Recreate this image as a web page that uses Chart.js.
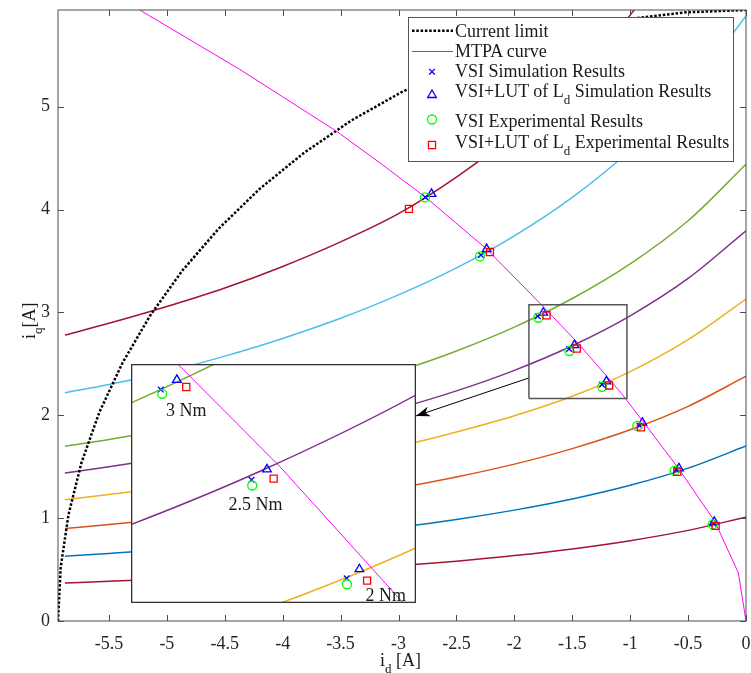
<!DOCTYPE html>
<html>
<head>
<meta charset="utf-8">
<script src="https://cdn.jsdelivr.net/npm/chart.js@4.4.0/dist/chart.umd.min.js"></script>
<style>
  body { margin: 0; background: #fff; }
  #wrap { position: relative; width: 751px; height: 673px; font-family: "Liberation Serif", "Times New Roman", serif; color: #1a1a1a; }
  #main { position: absolute; left: 0; top: 0; }
  #inset { position: absolute; left: 131px; top: 364px; background: #fff; }
  .lbl { position: absolute; font-size: 18px; line-height: 1; white-space: nowrap; }
  .lbl sub { font-size: 13px; vertical-align: -7px; line-height: 0; }
  #ylab { transform-origin: 0 0; transform: rotate(-90deg); }
</style>
</head>
<body>
<div id="wrap">
  <canvas id="main" width="751" height="673"></canvas>
  <canvas id="inset" width="285" height="239"></canvas>

  <div class="lbl" style="left:455px;top:21.6px">Current limit</div>
  <div class="lbl" style="left:455px;top:42.2px">MTPA curve</div>
  <div class="lbl" style="left:455px;top:62.2px">VSI Simulation Results</div>
  <div class="lbl" style="left:455px;top:82.4px">VSI+LUT of L<sub>d</sub> Simulation Results</div>
  <div class="lbl" style="left:455px;top:111.6px">VSI Experimental Results</div>
  <div class="lbl" style="left:455px;top:133.2px">VSI+LUT of L<sub>d</sub> Experimental Results</div>

  <div class="lbl" style="left:166px;top:401px">3 Nm</div>
  <div class="lbl" style="left:228.5px;top:495px">2.5 Nm</div>
  <div class="lbl" style="left:365.5px;top:585.6px">2 Nm</div>

  <div class="lbl" style="left:380px;top:651px">i<sub>d</sub> [A]</div>
  <div class="lbl" id="ylab" style="left:20px;top:338.5px">i<sub>q</sub>[A]</div>
</div>

<script>
// ---- axis ----
const xTicks = [-5.5, -5, -4.5, -4, -3.5, -3, -2.5, -2, -1.5, -1, -0.5, 0];
const yTicks = [0, 1, 2, 3, 4, 5];
const xLimits = [-5.94, 0];
const yLimits = [0, 5.94];
const insetXLimits = [-1.887, -1.036];
const insetYLimits = [2.211, 3.053];

// ---- constant torque curves (i_d grid shared) ----
const torqueId = [-5.88, -5.5, -5, -4.5, -4, -3.5, -3, -2.5, -2, -1.5, -1, -0.5, 0];
const iqCurve1 = [0.370, 0.386, 0.409, 0.435, 0.464, 0.498, 0.537, 0.582, 0.636, 0.701, 0.781, 0.881, 1.010];
const iqCurve2 = [0.630, 0.657, 0.695, 0.739, 0.789, 0.845, 0.911, 0.987, 1.078, 1.186, 1.319, 1.486, 1.701];
const iqCurve3 = [0.899, 0.937, 0.991, 1.053, 1.122, 1.202, 1.293, 1.400, 1.525, 1.676, 1.859, 2.087, 2.380];
const iqCurve4 = [1.179, 1.229, 1.300, 1.381, 1.473, 1.577, 1.697, 1.837, 1.995, 2.185, 2.425, 2.735, 3.130];
const iqCurve5 = [1.438, 1.499, 1.586, 1.684, 1.795, 1.921, 2.067, 2.237, 2.437, 2.676, 2.967, 3.330, 3.794];
const iqCurve6 = [1.700, 1.764, 1.866, 1.980, 2.110, 2.257, 2.427, 2.625, 2.857, 3.135, 3.472, 3.891, 4.440];
const iqCurve7 = [2.220, 2.300, 2.424, 2.575, 2.747, 2.943, 3.170, 3.433, 3.745, 4.119, 4.577, 5.147, 5.882];
const iqCurve8 = [2.780, 2.894, 3.057, 3.237, 3.447, 3.686, 3.960, 4.316, 4.735, 5.249, 5.890, 6.710, 7.790];

// ---- current limit ----
const limitId = [-5.94, -5.917, -5.850, -5.738, -5.582, -5.383, -5.144, -4.866, -4.550, -4.200,
                 -3.818, -3.407, -2.970, -2.510, -2.032, -1.537, -1.031, -0.518, 0];
const limitIq = [0, 0.518, 1.031, 1.537, 2.032, 2.510, 2.970, 3.407, 3.818, 4.200,
                 4.550, 4.866, 5.144, 5.383, 5.582, 5.738, 5.850, 5.917, 5.94];

// ---- MTPA ----
const mtpaId = [-5.40, -5.239, -4.371, -3.535, -3.161, -2.766, -2.239, -1.738, -1.442, -1.074, -0.89, -0.59, -0.27, -0.066, 0];
const mtpaIq = [6.05, 5.943, 5.363, 4.761, 4.454, 4.119, 3.616, 3.042, 2.691, 2.211, 1.94, 1.495, 0.97, 0.467, 0];

// ---- results ----
const vsiSimId = [-2.770, -2.288, -1.798, -1.527, -1.243, -0.920, -0.600, -0.280];
const vsiSimIq = [4.120, 3.558, 2.963, 2.645, 2.298, 1.900, 1.470, 0.945];
const lutSimId = [-2.715, -2.239, -1.750, -1.481, -1.205, -0.895, -0.579, -0.274];
const lutSimIq = [4.152, 3.616, 2.997, 2.682, 2.330, 1.928, 1.484, 0.964];
const vsiExpId = [-2.772, -2.297, -1.794, -1.525, -1.242, -0.939, -0.616, -0.288];
const vsiExpIq = [4.118, 3.544, 2.948, 2.625, 2.277, 1.896, 1.461, 0.939];
const lutExpId = [-2.910, -2.211, -1.722, -1.461, -1.182, -0.907, -0.593, -0.262];
const lutExpIq = [4.006, 3.587, 2.972, 2.649, 2.290, 1.883, 1.451, 0.925];

// ---- zoom box + arrow ----
const zoomBoxId = [-1.874, -1.028, -1.028, -1.874, -1.874];
const zoomBoxIq = [2.162, 2.162, 3.074, 3.074, 2.162];
const arrowId = [-1.874, -2.850];
const arrowIq = [2.363, 1.993];

const MAROON = '#A2142F', BLUE = '#0072BD', ORANGE = '#D95319', YELLOW = '#EDB120';
const PURPLE = '#7E2F8E', GREEN = '#77AC30', CYAN = '#4DBEEE', MAGENTA = '#FF00FF';

Chart.defaults.font.family = '"Liberation Serif", "Times New Roman", serif';
Chart.defaults.font.size = 18;
Chart.defaults.color = '#262626';

function xy(xs, ys) {
  return xs.map((x, i) => ({ x: x, y: ys[i] }));
}

function curve(ys, color) {
  return { data: xy(torqueId, ys), borderColor: color, borderWidth: 1.5, pointRadius: 0,
           cubicInterpolationMode: 'monotone', order: 4 };
}

function markers(xs, ys, style, color, r) {
  return { data: xy(xs, ys), showLine: false, pointStyle: style, pointRadius: r,
           pointBorderColor: color, pointBackgroundColor: 'rgba(0,0,0,0)', pointBorderWidth: 1.3,
           borderColor: color, order: 0 };
}

function makeDatasets(isMain) {
  const sets = [
    curve(iqCurve1, MAROON), curve(iqCurve2, BLUE), curve(iqCurve3, ORANGE), curve(iqCurve4, YELLOW),
    curve(iqCurve5, PURPLE), curve(iqCurve6, GREEN), curve(iqCurve7, CYAN), curve(iqCurve8, MAROON),
    { data: xy(mtpaId, mtpaIq), borderColor: MAGENTA, borderWidth: 1, pointRadius: 0, tension: 0, order: 2 },
    markers(lutExpId, lutExpIq, 'rect', '#FF0000', 5),
    markers(vsiExpId, vsiExpIq, 'circle', '#00FF00', 4.5),
    markers(lutSimId, lutSimIq, 'triangle', '#0000FF', 5),
    markers(vsiSimId, vsiSimIq, 'crossRot', '#0000FF', 4),
  ];
  if (isMain) {
    sets.push({ data: xy(limitId, limitIq), borderColor: '#000', borderWidth: 2.5, borderDash: [2.5, 1.8],
                borderCapStyle: 'butt', pointRadius: 0, tension: 0, order: 3 });
    sets.push({ data: xy(zoomBoxId, zoomBoxIq), borderColor: '#555', borderWidth: 1.5, pointRadius: 0, tension: 0, order: 1 });
    sets.push({ data: xy(arrowId, arrowIq), borderColor: '#000', borderWidth: 1, pointRadius: 0, tension: 0, order: 1 });
  }
  return sets;
}

function drawMarker(ctx, style, x, y, r) {
  Chart.helpers.drawPoint(ctx, { pointStyle: style, radius: r, borderWidth: 1.3, rotation: 0 }, x, y);
}

// box + inward ticks on all sides, arrowhead, legend box
const mainDecor = {
  id: 'mainDecor',
  afterDatasetsDraw(chart) {
    const { ctx, chartArea: a, scales: { x, y } } = chart;
    ctx.save();

    // arrowhead
    const tx = x.getPixelForValue(arrowId[1]), ty = y.getPixelForValue(arrowIq[1]);
    const sx = x.getPixelForValue(arrowId[0]), sy = y.getPixelForValue(arrowIq[0]);
    const len = Math.hypot(sx - tx, sy - ty);
    const ux = (sx - tx) / len, uy = (sy - ty) / len, nx = -uy, ny = ux;
    ctx.fillStyle = '#000';
    ctx.beginPath();
    ctx.moveTo(tx, ty);
    ctx.lineTo(tx + ux * 14 + nx * 5, ty + uy * 14 + ny * 5);
    ctx.lineTo(tx + ux * 10, ty + uy * 10);
    ctx.lineTo(tx + ux * 14 - nx * 5, ty + uy * 14 - ny * 5);
    ctx.closePath();
    ctx.fill();

    // axes box and ticks
    ctx.strokeStyle = '#4d4d4d';
    ctx.lineWidth = 1;
    ctx.beginPath();
    xTicks.forEach(v => {
      const px = Math.round(x.getPixelForValue(v)) + 0.5;
      ctx.moveTo(px, a.bottom); ctx.lineTo(px, a.bottom - 6);
      ctx.moveTo(px, a.top); ctx.lineTo(px, a.top + 6);
    });
    yTicks.forEach(v => {
      const py = Math.round(y.getPixelForValue(v)) + 0.5;
      ctx.moveTo(a.left, py); ctx.lineTo(a.left + 6, py);
      ctx.moveTo(a.right, py); ctx.lineTo(a.right - 6, py);
    });
    ctx.stroke();
    ctx.strokeRect(a.left, a.top, a.right - a.left, a.bottom - a.top);

    // legend box
    ctx.fillStyle = '#fff';
    ctx.fillRect(408, 17, 325, 144);
    ctx.strokeStyle = '#555';
    ctx.strokeRect(408.5, 17.5, 325, 144);

    ctx.lineWidth = 2.5;
    ctx.strokeStyle = '#000';
    ctx.setLineDash([2.5, 1.8]);
    ctx.beginPath(); ctx.moveTo(412, 30.7); ctx.lineTo(453, 30.7); ctx.stroke();
    ctx.setLineDash([]);
    ctx.lineWidth = 1;
    ctx.strokeStyle = MAGENTA;
    ctx.beginPath(); ctx.moveTo(412, 51.5); ctx.lineTo(453, 51.5); ctx.stroke();

    ctx.lineWidth = 1.3;
    ctx.strokeStyle = '#0000FF';
    drawMarker(ctx, 'crossRot', 432, 71.7, 4);
    drawMarker(ctx, 'triangle', 432, 95, 5);
    ctx.strokeStyle = '#00FF00';
    drawMarker(ctx, 'circle', 432, 119.5, 4.5);
    ctx.strokeStyle = '#FF0000';
    drawMarker(ctx, 'rect', 432, 145, 5);
    ctx.restore();
  }
};

const insetFrame = {
  id: 'insetFrame',
  afterDatasetsDraw(chart) {
    const { ctx, width, height } = chart;
    ctx.save();
    ctx.strokeStyle = '#333';
    ctx.lineWidth = 1.3;
    ctx.strokeRect(0.65, 0.65, width - 1.3, height - 1.3);
    ctx.restore();
  }
};

new Chart(document.getElementById('main').getContext('2d'), {
  type: 'line',
  data: { datasets: makeDatasets(true) },
  options: {
    responsive: false,
    devicePixelRatio: 1,
    animation: false,
    events: [],
    layout: { autoPadding: false, padding: { top: 10, right: 5, left: 0, bottom: 0 } },
    plugins: { legend: { display: false }, tooltip: { enabled: false } },
    scales: {
      x: {
        type: 'linear', min: xLimits[0], max: xLimits[1],
        grid: { display: false, drawTicks: false }, border: { display: false },
        ticks: { padding: 12, maxRotation: 0, autoSkip: false, callback: v => String(v) },
        afterBuildTicks: s => { s.ticks = xTicks.map(v => ({ value: v })); },
        afterFit: s => { s.height = 52; s.paddingLeft = 0; s.paddingRight = 0; }
      },
      y: {
        type: 'linear', min: yLimits[0], max: yLimits[1],
        grid: { display: false, drawTicks: false }, border: { display: false },
        ticks: { padding: 8, autoSkip: false, callback: v => String(v) },
        afterBuildTicks: s => { s.ticks = yTicks.map(v => ({ value: v })); },
        afterFit: s => { s.width = 58; s.paddingTop = 0; s.paddingBottom = 0; }
      }
    }
  },
  plugins: [mainDecor]
});

new Chart(document.getElementById('inset').getContext('2d'), {
  type: 'line',
  data: { datasets: makeDatasets(false) },
  options: {
    responsive: false,
    devicePixelRatio: 1,
    animation: false,
    events: [],
    layout: { autoPadding: false, padding: 0 },
    plugins: { legend: { display: false }, tooltip: { enabled: false } },
    scales: {
      x: { type: 'linear', display: false, min: insetXLimits[0], max: insetXLimits[1] },
      y: { type: 'linear', display: false, min: insetYLimits[0], max: insetYLimits[1] }
    }
  },
  plugins: [insetFrame]
});
</script>
</body>
</html>
